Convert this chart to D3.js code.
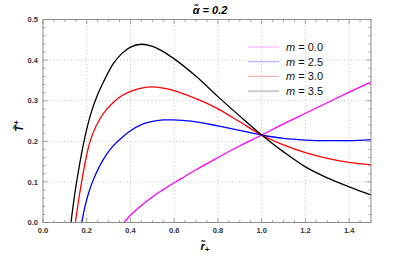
<!DOCTYPE html>
<html>
<head>
<meta charset="utf-8">
<script src="https://cdn.jsdelivr.net/npm/d3@7"></script>
<style>
  html, body { margin: 0; padding: 0; background: #fff; }
  text { font-family: "Liberation Sans", Arial, sans-serif; }
</style>
</head>
<body>
<svg id="chart" width="415" height="260"></svg>
<script>
// values
const masses = ["0.0", "2.5", "3.0", "3.5"];
const colors = ["#ff00ff", "#0000ff", "#ff0000", "#000000"];

const rM00 = [0.37, 0.40, 0.45, 0.50, 0.55, 0.60, 0.65, 0.70, 0.80, 0.90, 1.00, 1.10, 1.20, 1.30, 1.40, 1.50];
const tM00 = [0.000, 0.018, 0.042, 0.063, 0.081, 0.098, 0.114, 0.130, 0.160, 0.189, 0.2155, 0.243, 0.269, 0.295, 0.321, 0.346];

const rM25 = [0.177, 0.19, 0.21, 0.23, 0.26, 0.29, 0.32, 0.36, 0.40, 0.45, 0.50, 0.55, 0.60, 0.65, 0.70, 0.80, 0.90, 1.00, 1.10, 1.20, 1.30, 1.40, 1.50];
const tM25 = [0.000, 0.035, 0.075, 0.105, 0.140, 0.167, 0.188, 0.209, 0.226, 0.241, 0.249, 0.253, 0.253, 0.251, 0.248, 0.238, 0.227, 0.2155, 0.207, 0.203, 0.2015, 0.2015, 0.204];

const rM30 = [0.148, 0.16, 0.175, 0.19, 0.21, 0.23, 0.26, 0.29, 0.32, 0.36, 0.40, 0.45, 0.50, 0.55, 0.60, 0.70, 0.80, 0.90, 1.00, 1.10, 1.20, 1.30, 1.40, 1.50];
const tM30 = [0.000, 0.045, 0.095, 0.140, 0.190, 0.222, 0.255, 0.278, 0.295, 0.312, 0.323, 0.331, 0.334, 0.331, 0.325, 0.305, 0.280, 0.248, 0.2155, 0.191, 0.172, 0.158, 0.148, 0.142];

const rM35 = [0.128, 0.145, 0.16, 0.18, 0.20, 0.22, 0.25, 0.28, 0.32, 0.36, 0.40, 0.45, 0.50, 0.55, 0.60, 0.70, 0.80, 0.90, 1.00, 1.10, 1.20, 1.30, 1.40, 1.50];
const tM35 = [0.000, 0.070, 0.120, 0.180, 0.230, 0.270, 0.315, 0.350, 0.390, 0.416, 0.432, 0.439, 0.434, 0.421, 0.403, 0.360, 0.310, 0.262, 0.2155, 0.174, 0.137, 0.110, 0.088, 0.068];

const xTicks = [0.0, 0.2, 0.4, 0.6, 0.8, 1.0, 1.2, 1.4];
const yTicks = [0.0, 0.1, 0.2, 0.3, 0.4, 0.5];

const svg = d3.select("#chart");
const margin = { left: 43, right: 44, top: 19.5, bottom: 37.5 };
const W = 415, H = 260;

const x = d3.scaleLinear().domain([0, 1.5]).range([margin.left, W - margin.right]);
const y = d3.scaleLinear().domain([0, 0.5]).range([H - margin.bottom, margin.top]);

// grid
const grid = svg.append("g").attr("stroke", "#b0b0b0").attr("stroke-width", 0.8).attr("stroke-dasharray", "1,2.5");
xTicks.filter(d => d > 0).forEach(d => {
  grid.append("line").attr("x1", x(d)).attr("x2", x(d)).attr("y1", y(0)).attr("y2", y(0.5));
});
yTicks.filter(d => d > 0 && d < 0.5).forEach(d => {
  grid.append("line").attr("x1", x(0)).attr("x2", x(1.5)).attr("y1", y(d)).attr("y2", y(d));
});

// curves
const series = [[rM00, tM00], [rM25, tM25], [rM30, tM30], [rM35, tM35]];
const line = d3.line().x(d => x(d[0])).y(d => y(d[1])).curve(d3.curveMonotoneX);
svg.append("clipPath").attr("id", "clip").append("rect")
  .attr("x", x(0)).attr("y", y(0.5)).attr("width", x(1.5) - x(0)).attr("height", y(0) - y(0.5));
series.forEach((s, i) => {
  const pts = s[0].map((r, j) => [r, s[1][j]]);
  svg.append("path").datum(pts)
    .attr("d", line)
    .attr("fill", "none")
    .attr("stroke", colors[i])
    .attr("stroke-width", 1.3)
    .attr("clip-path", "url(#clip)");
});

// frame + ticks
const frameColor = "#8c8c8c";
const axisG = svg.append("g").attr("stroke", frameColor).attr("stroke-width", 0.8);
function ticks(vals, scale, horiz, len) {
  vals.forEach(v => {
    const p = scale(v);
    if (horiz) {
      axisG.append("line").attr("x1", p).attr("x2", p).attr("y1", y(0)).attr("y2", y(0) - len);
      axisG.append("line").attr("x1", p).attr("x2", p).attr("y1", y(0.5)).attr("y2", y(0.5) + len);
    } else {
      axisG.append("line").attr("y1", p).attr("y2", p).attr("x1", x(0)).attr("x2", x(0) + len);
      axisG.append("line").attr("y1", p).attr("y2", p).attr("x1", x(1.5)).attr("x2", x(1.5) - len);
    }
  });
}
ticks(x.ticks(30).filter(v => Math.abs(v * 5 - Math.round(v * 5)) > 1e-6), x, true, 2.5);
ticks(xTicks, x, true, 4.5);
ticks(y.ticks(25).filter(v => Math.abs(v * 10 - Math.round(v * 10)) > 1e-6), y, false, 2.5);
ticks(yTicks, y, false, 4.5);
svg.append("rect").attr("x", x(0)).attr("y", y(0.5)).attr("width", x(1.5) - x(0)).attr("height", y(0) - y(0.5))
  .attr("fill", "none").attr("stroke", frameColor).attr("stroke-width", 1);

// tick labels
const lab = svg.append("g").attr("font-size", 7.5).attr("font-weight", "bold").attr("fill", "#333");
xTicks.forEach(d => {
  lab.append("text").attr("x", x(d)).attr("y", y(0) + 10).attr("text-anchor", "middle").text(d3.format(".1f")(d));
});
yTicks.forEach(d => {
  lab.append("text").attr("x", x(0) - 5).attr("y", y(d) + 2.7).attr("text-anchor", "end").text(d3.format(".1f")(d));
});

// title and axis labels
svg.append("text").attr("x", 210).attr("y", 14).attr("text-anchor", "middle")
  .attr("font-size", 11).attr("font-weight", "bold").attr("font-style", "italic").text("\u03B1\u0303 = 0.2");
svg.append("text").attr("x", 205).attr("y", 250).attr("text-anchor", "middle")
  .attr("font-size", 11).attr("font-weight", "bold").attr("font-style", "italic")
  .append("tspan").text("r\u0303")
  .append("tspan").attr("font-size", 8).attr("dy", 2).text("+");
svg.append("text").attr("transform", "translate(23,126) rotate(-90)").attr("text-anchor", "middle")
  .attr("font-size", 11).attr("font-weight", "bold").attr("font-style", "italic")
  .append("tspan").text("T\u0303")
  .append("tspan").attr("font-size", 8).attr("dy", -4).text("+");

// legend
const leg = svg.append("g");
masses.forEach((m, i) => {
  const ly = 47 + i * 14.7;
  leg.append("line").attr("x1", 248).attr("x2", 279).attr("y1", ly).attr("y2", ly)
    .attr("stroke", colors[i]).attr("stroke-opacity", 0.3).attr("stroke-width", 1.2);
  const t = leg.append("text").attr("x", 286).attr("y", ly + 4).attr("font-size", 11).attr("fill", "#111");
  t.append("tspan").attr("font-style", "italic").text("m");
  t.append("tspan").text(i === 0 ? " = " + m : "  = " + m);
});
</script>
</body>
</html>
